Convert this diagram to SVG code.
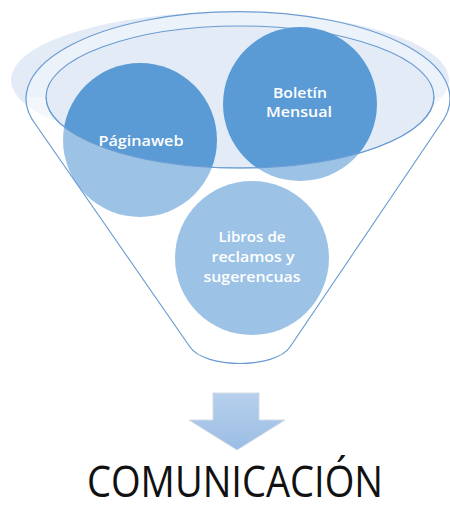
<svg xmlns="http://www.w3.org/2000/svg" width="450" height="510" viewBox="0 0 450 510">
<style>
.lbl{font-family:"Open Sans","Liberation Sans",sans-serif;font-weight:600;font-size:15px;fill:#ffffff;text-anchor:middle}
.line{fill:none;stroke:#6a9bd2;stroke-width:1.2}
.circ{fill:#5b9bd5}
</style>
<defs>
<linearGradient id="arrowGrad" x1="0" y1="0" x2="0" y2="1">
<stop offset="0" stop-color="#b6d0ec"/>
<stop offset="1" stop-color="#9bbde4"/>
</linearGradient>
<clipPath id="lowerClip"><rect x="0" y="97" width="450" height="300"/></clipPath>
</defs>
<rect width="450" height="510" fill="#ffffff"/>
<g id="funnel">
<path d="M36,125 A212 87 0 1 1 440,125 L290,347 C275,369 205,369 190,347 Z" fill="#ffffff"/>
<ellipse cx="230" cy="80" rx="219" ry="68" fill="#e3ecf6"/>
<path d="M36,125 A212 87 0 1 1 440,125 L290,347 C275,369 205,369 190,347 Z M46,97 A194 71 0 1 0 434,97 A194 71 0 1 0 46,97 Z" fill="#ffffff" fill-opacity="0.3" fill-rule="evenodd"/>
<ellipse cx="240" cy="97" rx="194" ry="71" fill="#e3ecf6" stroke="#6a9bd2" stroke-width="1.2"/>
</g>
<g id="node-pagina">
<circle class="circ" cx="140" cy="140" r="77"/>
</g>
<g id="node-boletin">
<circle class="circ" cx="300" cy="104" r="77"/>
</g>
<g id="node-libros">
<circle class="circ" cx="252" cy="258" r="77"/>
</g>
<g id="funnel-front">
<path d="M36,125 A212 87 0 1 1 440,125 L290,347 C275,369 205,369 190,347 Z M46,97 A194 71 0 1 0 434,97 A194 71 0 1 0 46,97 Z" fill="#ffffff" fill-opacity="0.4" fill-rule="evenodd" clip-path="url(#lowerClip)"/>
<path class="line" d="M46,97 A194 71 0 0 0 434,97"/>
<path class="line" d="M36,125 A212 87 0 1 1 440,125 L290,347 C275,369 205,369 190,347 Z"/>
</g>
<g id="labels">
<text class="lbl" x="141" y="146" textLength="85" lengthAdjust="spacingAndGlyphs">Páginaweb</text>
<text class="lbl" x="300" y="98" textLength="54" lengthAdjust="spacingAndGlyphs">Boletín</text>
<text class="lbl" x="299" y="117" textLength="66" lengthAdjust="spacingAndGlyphs">Mensual</text>
<text class="lbl" x="252" y="242" textLength="67" lengthAdjust="spacingAndGlyphs">Libros de</text>
<text class="lbl" x="253" y="262" textLength="83" lengthAdjust="spacingAndGlyphs">reclamos y</text>
<text class="lbl" x="252" y="282" textLength="97" lengthAdjust="spacingAndGlyphs">sugerencuas</text>
</g>
<g id="connectors">
<path d="M213,393 L259,393 L259,420 L285,420 L237,450 L189,420 L213,420 Z" fill="url(#arrowGrad)" stroke="#d3dbe4" stroke-width="1"/>
</g>
<g id="node-comunicacion">
<text x="235" y="497" font-family="'Open Sans','Liberation Sans',sans-serif" font-size="44" fill="#111111" text-anchor="middle" textLength="296" lengthAdjust="spacingAndGlyphs">COMUNICACIÓN</text>
</g>
</svg>
